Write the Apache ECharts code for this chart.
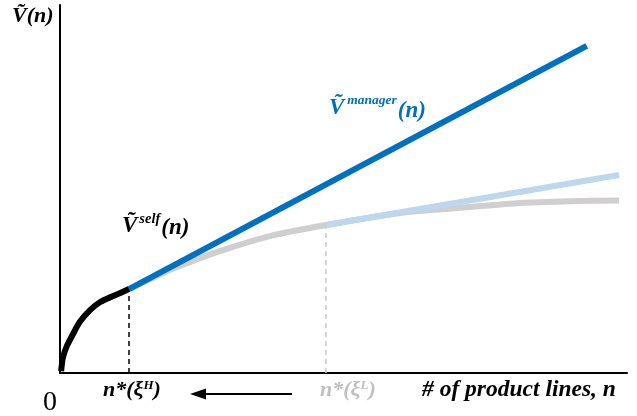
<!DOCTYPE html>
<html>
<head>
<meta charset="utf-8">
<script src="https://cdn.jsdelivr.net/npm/echarts@6/dist/echarts.min.js"></script>
<style>
  html, body { margin: 0; padding: 0; background: #fff; }
  #chart { width: 637px; height: 416px; }
</style>
</head>
<body>
<div id="chart"></div>
<script>
// 数据
const selfX = [0.02, 0.05, 0.12, 0.23, 0.35, 0.53, 0.71, 0.95, 1.217];
const selfY = [0.05, 0.41, 0.73, 1.06, 1.39, 1.71, 1.93, 2.10, 2.28];

const grayX = [1.217, 1.6, 2.0, 2.82, 3.70, 4.69, 6.0, 7.23, 8.11, 8.99, 9.86];
const grayY = [2.28, 2.56, 2.84, 3.31, 3.72, 4.02, 4.35, 4.51, 4.62, 4.67, 4.69];

const lightX = [4.69, 9.86];
const lightY = [4.02, 5.38];

const managerX = [1.217, 9.29];
const managerY = [2.28, 8.89];

const nStarH = 1.217;
const nStarL = 4.69;

const serif = '"Liberation Serif", "DejaVu Serif", serif';

const pairs = (xs, ys) => xs.map((x, i) => [x, ys[i]]);

var myChart = echarts.init(document.getElementById('chart'));

function bi(size, color, extra) {
  return Object.assign({
    fontFamily: serif,
    fontStyle: 'italic',
    fontWeight: 'bold',
    fontSize: size,
    fill: color
  }, extra || {});
}

let option = {
  animation: false,
  grid: { left: 60, right: 10, top: 5, bottom: 43 },
  xAxis: {
    type: 'value', min: 0, max: 10,
    axisLine: { lineStyle: { color: '#000', width: 2 } },
    axisTick: { show: false }, axisLabel: { show: false }, splitLine: { show: false }
  },
  yAxis: {
    type: 'value', min: 0, max: 10,
    axisLine: { show: true, lineStyle: { color: '#000', width: 2 } },
    axisTick: { show: false }, axisLabel: { show: false }, splitLine: { show: false }
  },
  series: [
    {
      type: 'line', symbol: 'none', silent: true,
      data: [[nStarL, 0], [nStarL, grayY[5]]],
      lineStyle: { color: '#c9c9c9', width: 1.5, type: [5, 4] }
    },
    {
      type: 'line', symbol: 'none', silent: true,
      data: [[nStarH, 0], [nStarH, selfY[selfY.length - 1]]],
      lineStyle: { color: '#000', width: 1.5, type: [5, 4] }
    },
    {
      type: 'line', symbol: 'none', smooth: 0.25,
      data: pairs(grayX, grayY),
      lineStyle: { color: '#d0cece', width: 6 }
    },
    {
      type: 'line', symbol: 'none',
      data: pairs(lightX, lightY),
      lineStyle: { color: '#bdd7ee', width: 6 }
    },
    {
      type: 'line', symbol: 'none',
      data: pairs(managerX, managerY),
      lineStyle: { color: '#0070c0', width: 6 }
    },
    {
      type: 'line', symbol: 'none', smooth: 0.25,
      data: pairs(selfX, selfY),
      lineStyle: { color: '#000', width: 6 }
    }
  ],
  graphic: [
    {
      type: 'text', left: 12, top: 5,
      style: { text: 'Ṽ(n)', ...bi(22, '#000') }
    },
    {
      type: 'text', left: 122, top: 212,
      style: {
        text: '{v|Ṽ}{s|self}{p|(n)}',
        rich: {
          v: bi(23, '#000'),
          s: bi(14.5, '#000', { verticalAlign: 'top', padding: [0, 1, 0, 2] }),
          p: bi(23, '#000', { padding: [5, 0, 0, 0] })
        }
      }
    },
    {
      type: 'text', left: 329, top: 94,
      style: {
        text: '{v|Ṽ}{s|manager}{p|(n)}',
        rich: {
          v: bi(23, '#0070c0'),
          s: bi(13.5, '#0070c0', { verticalAlign: 'top', padding: [0, 1, 0, 3] }),
          p: bi(23, '#0070c0', { padding: [6, 0, 0, 0] })
        }
      }
    },
    {
      type: 'text', left: 103, top: 379,
      style: {
        text: '{n|n*(ξ}{s|H}{n|)}',
        rich: {
          n: bi(22, '#000'),
          s: bi(13, '#000', { verticalAlign: 'top' })
        }
      }
    },
    {
      type: 'text', left: 320, top: 379,
      style: {
        text: '{n|n*(ξ}{s|L}{n|)}',
        rich: {
          n: bi(22, '#bfbfbf'),
          s: bi(13, '#bfbfbf', { verticalAlign: 'top' })
        }
      }
    },
    {
      type: 'text', left: 422, top: 378,
      style: { text: '# of product lines, n', ...bi(23.5, '#000') }
    },
    {
      type: 'text', left: 43, top: 389,
      style: { text: '0', fontFamily: serif, fontSize: 28, fill: '#000' }
    },
    {
      type: 'line',
      shape: { x1: 204, y1: 394, x2: 292, y2: 394 },
      style: { stroke: '#000', lineWidth: 2 }
    },
    {
      type: 'polygon',
      shape: { points: [[190, 394], [206, 388.5], [206, 399.5]] },
      style: { fill: '#000' }
    }
  ]
};

myChart.setOption(option);
</script>
</body>
</html>
